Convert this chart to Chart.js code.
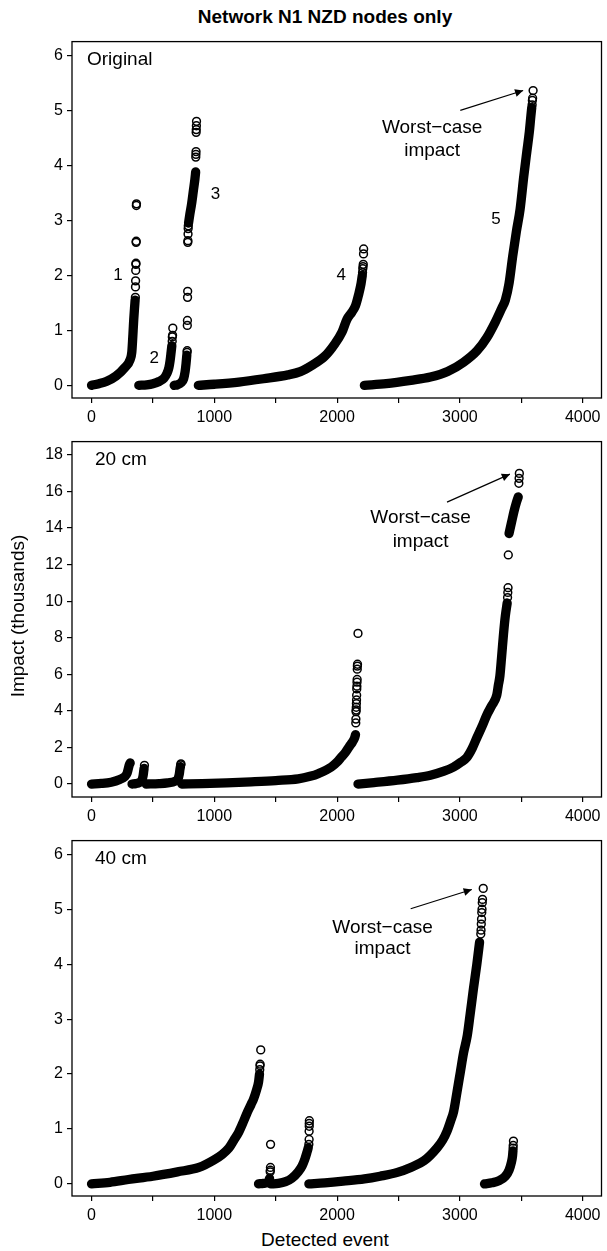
<!DOCTYPE html>
<html>
<head>
<meta charset="utf-8">
<script src="https://cdn.jsdelivr.net/npm/chart.js@4.4.1/dist/chart.umd.min.js"></script>
<style>
    body { margin: 0; background: #fff; width: 607px; height: 1251px; position: relative; overflow: hidden;
           font-family: "Liberation Sans", Arial, sans-serif; color: #000; }
    canvas { position: absolute; left: 0; }
    .txt { position: absolute; white-space: nowrap; text-align: center; line-height: 22px; }
    #title { top: 6px; left: 0; width: 650px; font-size: 19px; font-weight: bold; }
    #xlabel { top: 1229px; left: 0; width: 650px; font-size: 19px; }
    #ylabel { top: 605px; left: -132px; width: 300px; font-size: 19px; transform: rotate(-90deg); }
</style>
</head>
<body>
<div id="title" class="txt">Network N1 NZD nodes only</div>
<canvas id="c1" width="607" height="400" style="top:28px"></canvas>
<canvas id="c2" width="607" height="399" style="top:428px"></canvas>
<canvas id="c3" width="607" height="399" style="top:827px"></canvas>
<div id="ylabel" class="txt">Impact (thousands)</div>
<div id="xlabel" class="txt">Detected event</div>

<script>
// ── Eixos ────────────────────────────────────────────────────────────────────

const X_TICKS       = [0, 500, 1000, 1500, 2000, 2500, 3000, 3500, 4000];
const Y_TICKS_SHORT = [0, 1, 2, 3, 4, 5, 6];
const Y_TICKS_TALL  = [0, 2, 4, 6, 8, 10, 12, 14, 16, 18];
const PANEL_NAMES   = ["Original", "20 cm", "40 cm"];

// ── Original: trechos densos (evento, impacto) e pontos isolados ─────────────

const ORIG_SEG_1  = [[0,0],[60,0.03],[120,0.07],[200,0.17],[270,0.32],[315,0.47],[328,0.6],[334,0.8],[339,1.0],[344,1.2],[350,1.4],[355,1.55]];
const ORIG_SEG_2  = [[385,0],[450,0.01],[500,0.03],[550,0.07],[590,0.13],[615,0.22],[630,0.32],[640,0.45],[648,0.6],[654,0.72]];
const ORIG_SEG_3A = [[673,0],[700,0.01],[730,0.05],[750,0.12],[762,0.25],[770,0.4],[776,0.55]];
const ORIG_SEG_3B = [[790,2.95],[800,3.1],[815,3.3],[830,3.55],[842,3.75],[848,3.88]];
const ORIG_SEG_4  = [[870,0],[1000,0.02],[1200,0.06],[1400,0.12],[1600,0.19],[1700,0.25],[1800,0.37],[1900,0.53],[1980,0.75],[2040,0.97],[2080,1.2],[2120,1.33],[2150,1.45],[2175,1.65],[2195,1.85],[2205,2.0]];
const ORIG_SEG_5  = [[2222,0],[2400,0.03],[2600,0.09],[2760,0.15],[2900,0.25],[3030,0.42],[3140,0.63],[3220,0.87],[3290,1.16],[3340,1.4],[3370,1.55],[3400,1.85],[3430,2.35],[3460,2.8],[3490,3.2],[3520,3.8],[3545,4.25],[3565,4.6],[3578,4.9],[3585,5.05]];
const ORIG_TAILS  = [
    [357,1.6],[358,1.79],[359,1.9],[360,2.09],[361,2.2],[362,2.22],[363,2.6],[364,2.62],[365,3.27],[366,3.3],
    [657,0.8],[658,0.88],[660,0.91],[662,1.04],
    [778,0.6],[779,0.63],[780,1.09],[781,1.18],[782,1.6],[783,1.71],[784,2.6],[785,2.63],[786,2.75],[787,2.85],[788,2.9],
    [849,4.15],[850,4.2],[851,4.25],[852,4.6],[853,4.65],[854,4.72],[855,4.8],
    [2207,2.05],[2209,2.12],[2211,2.16],[2213,2.2],[2215,2.39],[2216,2.48],
    [3588,5.1],[3590,5.18],[3592,5.22],[3596,5.36]
];
const ORIG_NUMBERS = [["1",215,2.0],["2",511,0.5],["3",1010,3.48],["4",2033,2.0],["5",3293,3.02]];

// ── 20 cm ────────────────────────────────────────────────────────────────────

const CM20_SEG_A  = [[0,0],[80,0.03],[160,0.1],[230,0.25],[270,0.4],[290,0.6],[300,0.85],[308,1.05],[315,1.15]];
const CM20_SEG_B  = [[330,0],[360,0.02],[390,0.08],[410,0.2],[420,0.45],[425,0.7],[428,0.85]];
const CM20_SEG_C  = [[445,0],[550,0.02],[620,0.06],[680,0.15],[705,0.3],[715,0.55],[720,0.8],[724,0.95]];
const CM20_SEG_D  = [[735,0],[900,0.02],[1100,0.06],[1300,0.12],[1500,0.19],[1683,0.28],[1780,0.42],[1850,0.58],[1953,0.93],[2000,1.2],[2033,1.46],[2070,1.75],[2099,2.05],[2125,2.3],[2141,2.5],[2150,2.7]];
const CM20_SEG_E1 = [[2170,0],[2300,0.08],[2491,0.21],[2650,0.35],[2760,0.48],[2870,0.7],[2949,0.93],[3010,1.2],[3057,1.46],[3100,1.95],[3138,2.53],[3180,3.15],[3219,3.78],[3260,4.3],[3300,4.86],[3313,5.4],[3326,5.93],[3340,7.0],[3355,8.2],[3370,9.2],[3385,9.9]];
const CM20_SEG_E2 = [[3400,13.7],[3420,14.3],[3440,14.9],[3460,15.4],[3475,15.7]];
const CM20_TAILS  = [
    [431,1.02],[727,1.05],[728,1.1],
    [2152,3.34],[2153,3.55],[2154,3.96],[2155,4.05],[2156,4.2],[2157,4.4],[2158,4.6],[2159,4.86],[2160,5.2],[2161,5.35],[2162,5.57],[2163,5.72],[2164,6.28],[2165,6.45],[2166,6.55],[2170,8.24],
    [3388,10.2],[3390,10.48],[3392,10.74],[3394,12.53],
    [3480,16.45],[3482,16.72],[3484,16.99]
];

// ── 40 cm ────────────────────────────────────────────────────────────────────

const CM40_SEG_A = [[0,0],[150,0.03],[300,0.08],[500,0.14],[700,0.22],[875,0.3],[1000,0.44],[1060,0.53],[1118,0.65],[1160,0.8],[1198,0.94],[1240,1.15],[1266,1.29],[1300,1.45],[1320,1.55],[1345,1.72],[1360,1.85],[1368,2.0]];
const CM40_SEG_B = [[1360,0],[1400,0.01],[1440,0.04],[1450,0.1]];
const CM40_SEG_C = [[1460,0],[1520,0.01],[1580,0.04],[1630,0.1],[1683,0.22],[1715,0.33],[1737,0.45],[1755,0.58],[1765,0.66]];
const CM40_SEG_D = [[1770,0],[1900,0.02],[2050,0.05],[2222,0.09],[2350,0.14],[2491,0.21],[2600,0.3],[2707,0.42],[2815,0.66],[2860,0.8],[2895,0.96],[2925,1.15],[2949,1.32],[2976,1.67],[3003,2.03],[3030,2.39],[3060,2.7],[3084,3.1],[3110,3.55],[3138,4.0],[3160,4.4]];
const CM40_SEG_E = [[3200,0],[3260,0.02],[3320,0.06],[3370,0.14],[3400,0.25],[3420,0.4],[3428,0.5],[3432,0.6]];
const CM40_TAILS = [
    [1370,2.08],[1372,2.15],[1373,2.18],[1378,2.44],
    [1455,0.22],[1456,0.25],[1457,0.3],[1458,0.72],
    [1770,0.72],[1772,0.81],[1772,0.96],[1773,1.05],[1773,1.1],[1774,1.15],
    [3170,4.55],[3172,4.62],[3174,4.73],[3176,4.82],[3178,4.94],[3180,5.0],[3182,5.12],[3184,5.18],[3190,5.38],
    [3433,0.65],[3434,0.7],[3436,0.78]
];

;(function () {

    // ── Constantes ────────────────────────────────────────────────────────────

    const FONT = '"Liberation Sans", Arial, sans-serif';
    const BAND = 9.3;   // largura da faixa de círculos sobrepostos

    const PANELS = [
        {
            id: "c1", yMin: -0.23, yMax: 6.25, yTicks: Y_TICKS_SHORT,
            name: PANEL_NAMES[0], nameDx: 15,
            bands: [ORIG_SEG_1, ORIG_SEG_2, ORIG_SEG_3A, ORIG_SEG_3B, ORIG_SEG_4, ORIG_SEG_5],
            tails: ORIG_TAILS, numbers: ORIG_NUMBERS,
            note: { x: 2774, y1: 4.69, y2: 4.27, from: [3003, 5.0], to: [3515, 5.36] }
        },
        {
            id: "c2", yMin: -0.71, yMax: 18.73, yTicks: Y_TICKS_TALL,
            name: PANEL_NAMES[1], nameDx: 23,
            bands: [CM20_SEG_A, CM20_SEG_B, CM20_SEG_C, CM20_SEG_D, CM20_SEG_E1, CM20_SEG_E2],
            tails: CM20_TAILS, numbers: [],
            note: { x: 2680, y1: 14.58, y2: 13.24, from: [2895, 15.42], to: [3407, 16.95] }
        },
        {
            id: "c3", yMin: -0.22, yMax: 6.25, yTicks: Y_TICKS_SHORT,
            name: PANEL_NAMES[2], nameDx: 23,
            bands: [CM40_SEG_A, CM40_SEG_B, CM40_SEG_C, CM40_SEG_D, CM40_SEG_E],
            tails: CM40_TAILS, numbers: [],
            note: { x: 2370, y1: 4.67, y2: 4.28, from: [2599, 5.01], to: [3097, 5.36] }
        }
    ];

    const toXY = arr => arr.map(([x, y]) => ({ x, y }));

    // ── Plugin: moldura, rótulos e seta ───────────────────────────────────────

    const overlay = {
        id: "overlay",
        afterDatasetsDraw(chart, args, opts) {
            const { ctx, chartArea: a, scales: { x, y } } = chart;
            const p = opts.panel;
            ctx.save();

            ctx.strokeStyle = "#000";
            ctx.lineWidth = 1.3;
            ctx.strokeRect(a.left, a.top, a.right - a.left, a.bottom - a.top);

            ctx.fillStyle = "#000";
            ctx.textBaseline = "middle";
            ctx.font = `19px ${FONT}`;
            ctx.textAlign = "left";
            ctx.fillText(p.name, a.left + p.nameDx, a.top + 18);

            ctx.textAlign = "center";
            ctx.fillText("Worst\u2212case", x.getPixelForValue(p.note.x), y.getPixelForValue(p.note.y1));
            ctx.fillText("impact",           x.getPixelForValue(p.note.x), y.getPixelForValue(p.note.y2));

            ctx.font = `17px ${FONT}`;
            for (const [t, nx, ny] of p.numbers) {
                ctx.fillText(t, x.getPixelForValue(nx), y.getPixelForValue(ny));
            }

            // seta
            const x0 = x.getPixelForValue(p.note.from[0]), y0 = y.getPixelForValue(p.note.from[1]);
            const x1 = x.getPixelForValue(p.note.to[0]),   y1 = y.getPixelForValue(p.note.to[1]);
            const ang = Math.atan2(y1 - y0, x1 - x0);
            const len = 9, spread = Math.PI / 7;
            ctx.lineWidth = 1.2;
            ctx.beginPath();
            ctx.moveTo(x0, y0);
            ctx.lineTo(x1, y1);
            ctx.stroke();
            ctx.beginPath();
            ctx.moveTo(x1, y1);
            ctx.lineTo(x1 - len * Math.cos(ang - spread), y1 - len * Math.sin(ang - spread));
            ctx.lineTo(x1 - len * Math.cos(ang + spread), y1 - len * Math.sin(ang + spread));
            ctx.closePath();
            ctx.fill();

            ctx.restore();
        }
    };

    // ── Gráficos ──────────────────────────────────────────────────────────────

    function build(p) {
        const datasets = p.bands.map(seg => ({
            data: toXY(seg),
            showLine: true,
            borderColor: "#000",
            borderWidth: BAND,
            borderCapStyle: "round",
            borderJoinStyle: "round",
            pointRadius: 0,
            cubicInterpolationMode: "monotone",
            clip: false
        }));

        datasets.push({
            data: toXY(p.tails),
            showLine: false,
            pointRadius: 3.9,
            pointBorderWidth: 1.5,
            pointBorderColor: "#000",
            pointBackgroundColor: "rgba(0,0,0,0)",
            clip: false
        });

        const tickFont = { family: FONT, size: 16 };
        const gridBase = { drawOnChartArea: false, drawTicks: true, tickLength: 5, color: "#000", lineWidth: 1.2 };

        new Chart(document.getElementById(p.id), {
            type: "scatter",
            data: { datasets },
            plugins: [overlay],
            options: {
                responsive: false,
                animation: false,
                events: [],
                layout: { padding: { top: 8, right: 1, left: 0, bottom: 0 } },
                plugins: {
                    legend: { display: false },
                    tooltip: { enabled: false },
                    overlay: { panel: p }
                },
                scales: {
                    x: {
                        type: "linear",
                        min: -159, max: 4153,
                        grid: gridBase,
                        border: { display: false },
                        afterBuildTicks: s => { s.ticks = X_TICKS.map(v => ({ value: v })); },
                        afterFit: s => { s.height = 30; },
                        ticks: {
                            color: "#000", font: tickFont, padding: 5, maxRotation: 0, autoSkip: false,
                            callback: v => (v % 1000 === 0 ? String(v) : "")
                        }
                    },
                    y: {
                        type: "linear",
                        min: p.yMin, max: p.yMax,
                        grid: gridBase,
                        border: { display: false },
                        afterBuildTicks: s => { s.ticks = p.yTicks.map(v => ({ value: v })); },
                        afterFit: s => { s.width = 72; },
                        ticks: { color: "#000", font: tickFont, padding: 4, autoSkip: false, callback: v => String(v) }
                    }
                }
            }
        });
    }

    PANELS.forEach(build);

})();
</script>
</body>
</html>
